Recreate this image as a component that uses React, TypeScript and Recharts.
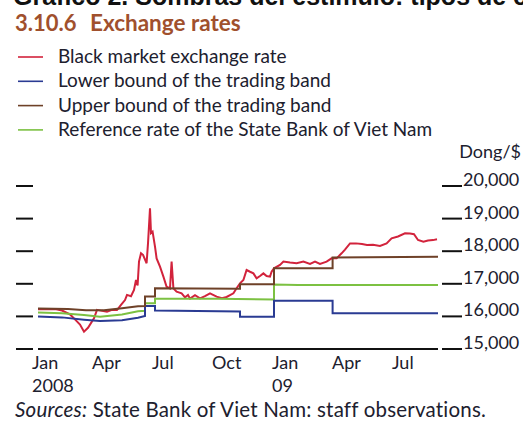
import { LineChart, Line, XAxis, YAxis } from 'recharts'

// x = months since 1 Jan 2008, y = dong per US dollar
const blackMarket = [
    [0, 16220], [0.85, 16230], [1.2, 16180], [1.6, 16060], [1.8, 15940], [2.1, 15750],
    [2.3, 15530], [2.5, 15650], [2.8, 15940], [2.95, 16200], [3.2, 16170], [3.45, 16145],
    [3.7, 16200], [3.95, 16196], [4.15, 16350], [4.35, 16500], [4.45, 16660], [4.65, 16620],
    [4.8, 16810], [4.9, 17116], [4.98, 16950], [5.05, 17680], [5.15, 17935], [5.25, 17890],
    [5.43, 17630], [5.5, 18240], [5.6, 19315], [5.65, 18555], [5.73, 18600], [5.85, 18140],
    [5.93, 17780], [6.1, 17525], [6.27, 17218], [6.43, 16910], [6.6, 16860], [6.68, 17680],
    [6.77, 16860], [6.93, 16757], [7.18, 16705], [7.35, 16585], [7.5, 16655], [7.6, 16545],
    [7.85, 16650], [8.1, 16555], [8.35, 16620], [8.6, 16708], [8.93, 16605], [9.2, 16560],
    [9.43, 16595], [9.77, 16708], [9.93, 16862], [10.1, 17015], [10.27, 17116], [10.43, 17423],
    [10.6, 17370], [10.77, 17320], [10.93, 17168], [11.1, 17240], [11.27, 17320], [11.43, 17240],
    [11.6, 17220], [11.68, 17370], [11.8, 17475], [12.1, 17580], [12.27, 17680], [12.6, 17650],
    [12.93, 17630], [13.27, 17680], [13.6, 17610], [13.85, 17680], [14.1, 17610], [14.43, 17680],
    [14.68, 17780], [14.93, 17780], [15.18, 17935], [15.35, 18050], [15.6, 18240], [15.9, 18240],
    [16.2, 18220], [16.45, 18190], [16.75, 18200], [17.1, 18160], [17.43, 18240], [17.68, 18395],
    [18.0, 18450], [18.35, 18548], [18.6, 18540], [18.8, 18520], [19.0, 18343], [19.27, 18290],
    [19.5, 18330], [19.75, 18340], [19.95, 18365],
]
const lowerBound = [
    [0, 16000], [1.2, 15970], [2.3, 15900], [3.1, 15860], [4.2, 15880], [5.0, 15960],
    [5.35, 16010], [5.35, 16320], [5.85, 16320], [5.85, 16180], [10.1, 16150], [10.1, 15990],
    [11.8, 15990], [11.8, 16480], [14.73, 16480], [14.73, 16100], [20, 16100],
]
const upperBound = [
    [0, 16240], [1.5, 16230], [2.4, 16190], [3.3, 16190], [4.2, 16250], [5.0, 16310],
    [5.35, 16320], [5.35, 16610], [5.85, 16610], [5.85, 16860], [10.1, 16850], [10.1, 16990],
    [11.8, 16990], [11.8, 17480], [14.73, 17480], [14.73, 17810], [20, 17830],
]
const referenceRate = [
    [0, 16120], [1.2, 16100], [2.3, 16040], [3.1, 15990], [4.2, 16060], [5.0, 16160],
    [5.35, 16170], [5.35, 16400], [5.85, 16400], [5.85, 16540], [9, 16540], [11.8, 16520],
    [11.8, 16980], [13, 16960], [20, 16960],
]

const monthTicks = [0, 3, 6, 9, 12, 15, 18]
const monthLabels = ['Jan', 'Apr', 'Jul', 'Oct', 'Jan', 'Apr', 'Jul']
const yearLabels = ['2008', '', '', '', '09', '', '']
const rateTicks = [15000, 16000, 17000, 18000, 19000, 20000]

const series = [
    { key: 'black', name: 'Black market exchange rate', color: '#d2233c', points: blackMarket },
    { key: 'lower', name: 'Lower bound of the trading band', color: '#2a3b93', points: lowerBound },
    { key: 'upper', name: 'Upper bound of the trading band', color: '#6e4128', points: upperBound },
    { key: 'ref', name: 'Reference rate of the State Bank of Viet Nam', color: '#7cc142', points: referenceRate },
]
// drawing order: black market underneath the bands
const drawOrder = ['black', 'ref', 'lower', 'upper']

const FONT = 'Lato, "Open Sans", sans-serif'
const INK = '#20202e'

const LeftTick = ({ x, y }: any) => (
    <line x1={x - 22} x2={x - 5} y1={y} y2={y} stroke="#111" strokeWidth={2} />
)

const RightTick = ({ x, y, payload }: any) => (
    <g>
        <line x1={x + 4} x2={x + 24} y1={y} y2={y} stroke="#111" strokeWidth={2} />
        <text x={x + 25} y={y} fill={INK} fontFamily={FONT} fontSize={18}>
            {payload.value.toLocaleString('en-US')}
        </text>
    </g>
)

const MonthTick = ({ x, y, index }: any) => (
    <g>
        <text x={x - 6} y={y + 20} fill={INK} fontFamily={FONT} fontSize={18}>
            {monthLabels[index]}
        </text>
        <text x={x - 6} y={y + 43} fill={INK} fontFamily={FONT} fontSize={18}>
            {yearLabels[index]}
        </text>
    </g>
)

const App = () => {
    return (
        <div style={{ position: 'absolute', left: 0, top: 0, width: 523, height: 421, overflow: 'hidden', background: '#fff' }}>
            <div style={{ position: 'absolute', left: 0, top: 0 }}>
                <LineChart width={523} height={421} margin={{ top: 186, right: 0, bottom: 0, left: 16 }}>
                    <XAxis
                        type="number"
                        dataKey="x"
                        domain={[0, 20]}
                        ticks={monthTicks}
                        interval={0}
                        height={72}
                        tickSize={0}
                        tickMargin={0}
                        tickLine={false}
                        axisLine={{ stroke: '#111', strokeWidth: 2 }}
                        tick={<MonthTick />}
                    />
                    <YAxis
                        yAxisId="left"
                        orientation="left"
                        domain={[15000, 20000]}
                        ticks={rateTicks}
                        width={22}
                        tickSize={0}
                        tickMargin={0}
                        tickLine={false}
                        axisLine={false}
                        tick={<LeftTick />}
                    />
                    <YAxis
                        yAxisId="right"
                        orientation="right"
                        domain={[15000, 20000]}
                        ticks={rateTicks}
                        width={85}
                        tickSize={0}
                        tickMargin={0}
                        tickLine={false}
                        axisLine={false}
                        tick={<RightTick />}
                    />
                    {drawOrder.map((k) => {
                        const s = series.find((d) => d.key === k)!
                        return (
                            <Line
                                key={s.key}
                                yAxisId={k === 'black' ? 'left' : 'right'}
                                data={s.points.map(([x, y]) => ({ x, y }))}
                                dataKey="y"
                                name={s.name}
                                type="linear"
                                stroke={s.color}
                                strokeWidth={2}
                                dot={false}
                                isAnimationActive={false}
                            />
                        )
                    })}
                </LineChart>
            </div>
            <svg width={523} height={421} style={{ position: 'absolute', left: 0, top: 0, pointerEvents: 'none' }}>
                <text x={13} y={5} fontFamily='"Liberation Sans", Arial, sans-serif' fontWeight="bold" fontSize={25} fill="#111">
                    Gráfico 2. Sombras del estímulo: tipos de cambio
                </text>
                <text x={15} y={31} fontFamily={FONT} fontWeight="bold" fontSize={22} fill="#a0502d">
                    3.10.6
                </text>
                <text x={90} y={31} fontFamily={FONT} fontWeight="bold" fontSize={22.5} fill="#a0502d">
                    Exchange rates
                </text>
                {series.map((s, i) => (
                    <g key={s.key}>
                        <line x1={18} x2={43} y1={57 + i * 24.3} y2={57 + i * 24.3} stroke={s.color} strokeWidth={1.6} />
                        <text x={58} y={63 + i * 24.3} fontFamily={FONT} fontSize={19} fill={INK}>
                            {s.name}
                        </text>
                    </g>
                ))}
                <text x={521} y={158} textAnchor="end" fontFamily={FONT} fontSize={18} fill={INK}>
                    Dong/$
                </text>
                <text x={15} y={417} fontFamily={FONT} fontSize={20.5} letterSpacing={0.2} fill={INK}>
                    <tspan fontStyle="italic">Sources:</tspan> State Bank of Viet Nam: staff observations.
                </text>
            </svg>
        </div>
    )
}

export default App
